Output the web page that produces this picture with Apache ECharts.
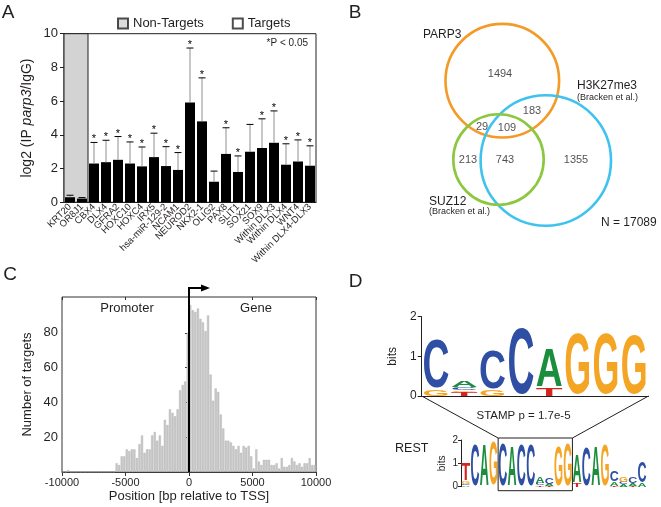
<!DOCTYPE html>
<html><head><meta charset="utf-8">
<script src="https://cdn.jsdelivr.net/npm/echarts@6/dist/echarts.min.js"></script>
<style>html,body{margin:0;padding:0;background:#fff}#c{width:661px;height:507px}</style>
</head><body><div id="c"></div>
<script>
const FONT = '"Liberation Sans", Arial, Helvetica, sans-serif';
const INK = '#231f20';

// ---------- Panel A data ----------
const genes = ['KRT20','OR8J1','CBX4','DLX4','GFRA2','HOXC10','HOXC4','IRX5','hsa-miR-129-2','NCAM1','NEUROD2','NKX2-1','OLIG2','PAX8','SLIT1','SOX21','SOX9','Within DLX3','Within DLX4','WNT4','Within DLX4-DLX3'];
const enrichment = [0.3,0.22,2.3,2.38,2.52,2.3,2.13,2.68,2.15,1.92,5.92,4.8,1.22,2.87,1.8,3.0,3.22,3.53,2.23,2.42,2.17];
const errorTop   = [0.42,0.28,3.55,3.68,3.9,3.58,3.28,4.1,3.3,2.95,9.15,7.38,1.85,4.42,2.75,4.62,4.95,5.42,3.47,3.7,3.35];
const significant = [0,0,1,1,1,1,1,1,1,1,1,1,0,1,1,0,1,1,1,1,1];
const nonTargets = ['KRT20','OR8J1'];
const legendNames = ['Non-Targets','Targets'];

// ---------- Panel B data ----------
const vennSets = ['PARP3','H3K27me3','SUZ12'];
const vennCounts = [1494,183,29,109,213,743,1355];
const totalGenes = 17089;

// ---------- Panel C data ----------
const binStart = -10000, binWidth = 200;
const targetCounts = [
 0,0,1,0,0,0,0,0,0,0, 0,0,0,0,0,0,0,0,0,0,
 0,5,4,9,9,13,12,13,13,8, 16,21,11,13,13,21,23,18,21,15,
 30,27,36,34,32,36,47,50,52,80,
 96,93,92,94,88,86,81,90,56,41, 48,46,33,25,18,18,17,15,13,15,
 11,15,14,15,9,2,13,6,4,7, 7,7,4,4,5,2,8,3,3,4,
 8,6,4,5,3,5,5,8,4,4
];

// ---------- Panel D data ----------
const motifLetters = ['A','C','G','T'];
const parp3Motif = [
 [['G',0.16],['C',1.24]],
 [['T',0.11],['G',0.04],['C',0.08],['A',0.16]],
 [['G',0.16],['C',0.97]],
 [['C',1.68]],
 [['T',0.2],['A',0.98]],
 [['G',1.55]],
 [['G',1.55]],
 [['G',1.5]]
];
const restMotif = [
 [['A',0.06],['C',0.07],['G',0.1],['T',0.72]],
 [['C',1.78]],
 [['A',1.78]],
 [['G',1.9]],
 [['C',1.8]],
 [['A',1.72]],
 [['C',1.78]],
 [['C',1.75]],
 [['T',0.05],['C',0.1],['A',0.3]],
 [['T',0.04],['A',0.08],['C',0.3]],
 [['G',1.72]],
 [['G',1.8]],
 [['T',0.14],['A',1.2]],
 [['C',1.62]],
 [['A',1.7]],
 [['G',1.78]],
 [['T',0.04],['A',0.18],['C',0.45]],
 [['A',0.1],['C',0.1],['G',0.22]],
 [['T',0.04],['A',0.1],['C',0.28]],
 [['A',0.15],['C',0.88]]
];

// ---------- layout (not data) ----------
const vennCircleLayout = [[172.3,80.7,56.8],[215.8,160.5,65.2],[168.5,159.5,45.2]];
const vennColors = ['#F39A27','#3FC3EE','#8DC63F'];
const vennCountLayout = [[170,74],[202,111],[152,127],[177,128],[138,160],[175,160],[246,160]];
const LETTER_W = {A:0.722, C:0.722, G:0.778, T:0.611};
const LETTER_COL = {A:'#1B8E3E', C:'#2E4FA3', G:'#F5A524', T:'#D2261E'};

function stackData(motif){
  const out = [];
  motif.forEach((col,i)=>{ let acc=0; col.forEach(([L,h])=>{ out.push([i, acc, acc+h, motifLetters.indexOf(L)]); acc+=h; }); });
  return out;
}
function logoRender(fill){
  return function(params, api){
    const idx = api.value(0), y0 = api.value(1), y1 = api.value(2), L = motifLetters[api.value(3)];
    const pb = api.coord([idx, y0]), pt = api.coord([idx, y1]);
    const h = pb[1]-pt[1];
    if (h < 0.3) return {type:'group', children:[]};
    const bw = api.size([1,0])[0]*fill;
    const F = 100;
    const sx = bw/(LETTER_W[L]*F), sy = h/(0.716*F);
    return {type:'text', x: pb[0], y: (pb[1]+pt[1])/2 + 0.045*F*sy, scaleX: sx, scaleY: sy,
      style:{text:L, fontSize:F, fontFamily:FONT, fontWeight:'bold', fill:LETTER_COL[L], align:'center', verticalAlign:'middle'}};
  };
}

const chart = echarts.init(document.getElementById('c'));
const txt = (s)=>({color:INK, fontFamily:FONT, fontSize:s});

chart.setOption({
  animation:false,
  backgroundColor:'#fff',
  legend:{data:legendNames, left:117, top:17, itemWidth:10, itemHeight:10, itemGap:28, icon:'rect', selectedMode:false, textStyle:txt(13), padding:0},
  grid:[
    {left:64, top:33.7, width:252, height:168.6, show:true, borderColor:INK, borderWidth:1, backgroundColor:'transparent'},
    {left:330, top:0, width:331, height:260},
    {left:62, top:297, width:254, height:175, show:true, borderColor:'#333', borderWidth:1, backgroundColor:'transparent'},
    {left:421.7, top:316.7, width:226.8, height:79.3},
    {left:461, top:440, width:185.7, height:46.7}
  ],
  xAxis:[
    {gridIndex:0, type:'category', data:genes, axisLine:{lineStyle:{color:INK}}, axisTick:{show:false},
     axisLabel:{...txt(9.5), rotate:45, interval:0, margin:3}},
    {gridIndex:1, type:'value', min:0, max:331, show:false},
    {gridIndex:2, type:'value', min:-10000, max:10000, interval:5000, axisLine:{lineStyle:{color:'#333'}},
     axisTick:{length:4, lineStyle:{color:'#333'}}, axisLabel:{...txt(11), margin:5, formatter:v=>String(v)}, splitLine:{show:false},
     name:'Position [bp relative to TSS]', nameLocation:'middle', nameGap:18, nameTextStyle:txt(13)},
    {gridIndex:2, type:'value', position:'top', min:-10000, max:10000, interval:5000, axisLine:{show:false},
     axisTick:{inside:true, length:3, lineStyle:{color:'#333'}}, axisLabel:{show:false}, splitLine:{show:false}},
    {gridIndex:3, type:'category', data:parp3Motif.map((_,i)=>'t'+(i+1)), axisLine:{lineStyle:{color:INK}},
     axisTick:{alignWithLabel:true, length:4, lineStyle:{color:INK}}, axisLabel:{show:false}},
    {gridIndex:4, type:'category', data:restMotif.map((_,i)=>'r'+(i+1)), show:false}
  ],
  yAxis:[
    {gridIndex:0, type:'value', min:0, max:10, interval:2, axisLine:{show:true, lineStyle:{color:INK}},
     axisTick:{show:true, length:4, lineStyle:{color:INK}}, axisLabel:{...txt(13), margin:6}, splitLine:{show:false},
     name:'{n|log2 (IP }{i|parp3}{n|/IgG)}', nameLocation:'middle', nameGap:30,
     nameTextStyle:{...txt(14), rich:{n:txt(14), i:{...txt(14), fontStyle:'italic'}}}},
    {gridIndex:1, type:'value', min:0, max:260, inverse:true, show:false},
    {gridIndex:2, type:'value', min:0, max:100.6, axisLine:{show:true, lineStyle:{color:'#333'}},
     axisTick:{show:true, length:4, customValues:[20,40,60,80], lineStyle:{color:'#333'}},
     axisLabel:{...txt(13), margin:4, customValues:[20,40,60,80]}, splitLine:{show:false},
     name:'Number of targets', nameLocation:'middle', nameGap:28, nameTextStyle:txt(13)},
    {gridIndex:3, type:'value', min:0, max:2, interval:1, axisLine:{show:true, lineStyle:{color:INK}},
     axisTick:{show:true, length:4, lineStyle:{color:INK}}, axisLabel:{...txt(12), margin:5}, splitLine:{show:false},
     name:'bits', nameLocation:'middle', nameGap:23, nameTextStyle:txt(12)},
    {gridIndex:4, type:'value', min:0, max:2, interval:1, axisLine:{show:true, lineStyle:{color:INK}},
     axisTick:{show:true, length:3, lineStyle:{color:INK}}, axisLabel:{...txt(10), margin:3}, splitLine:{show:false},
     name:'bits', nameLocation:'middle', nameGap:14, nameTextStyle:txt(10)}
  ],
  series:[
    {type:'bar', name:'log2 enrichment', xAxisIndex:0, yAxisIndex:0, data:enrichment, barWidth:10, z:3,
     itemStyle:{color:'#000'},
     markArea:{silent:true, itemStyle:{color:'#d3d3d3', borderColor:INK, borderWidth:1},
       data:[[{xAxis:nonTargets[0]},{xAxis:nonTargets[nonTargets.length-1]}]]}},
    {type:'custom', xAxisIndex:0, yAxisIndex:0, z:4,
     data: enrichment.map((v,i)=>[i, v, errorTop[i], significant[i]]),
     encode:{x:0, y:[1,2]},
     renderItem(params, api){
       const i = api.value(0);
       const b = api.coord([i, api.value(1)]), t = api.coord([i, api.value(2)]);
       const ch = [
         {type:'line', shape:{x1:b[0], y1:b[1], x2:t[0], y2:t[1]}, style:{stroke:'#8f8f8f', lineWidth:1}},
         {type:'line', shape:{x1:t[0]-3.5, y1:t[1], x2:t[0]+3.5, y2:t[1]}, style:{stroke:'#000', lineWidth:1}}
       ];
       if (api.value(3)) ch.push({type:'text', x:t[0], y:t[1]-3, style:{text:'*', fontSize:11, fontFamily:FONT, fill:'#000', align:'center', verticalAlign:'middle'}});
       return {type:'group', children:ch};
     }},
    {type:'scatter', name:legendNames[0], xAxisIndex:0, yAxisIndex:0, data:[], itemStyle:{color:'#d3d3d3', borderColor:INK, borderWidth:1}},
    {type:'scatter', name:legendNames[1], xAxisIndex:0, yAxisIndex:0, data:[], itemStyle:{color:'#fff', borderColor:INK, borderWidth:1}},
    {type:'custom', xAxisIndex:1, yAxisIndex:1, z:2,
     data: vennCircleLayout.map((c,i)=>[c[0], c[1], c[2], i]),
     encode:{x:0, y:1},
     renderItem(params, api){
       const c = api.coord([api.value(0), api.value(1)]);
       const r = api.size([api.value(2), 0])[0];
       return {type:'circle', shape:{cx:c[0], cy:c[1], r:r}, style:{fill:'none', stroke:vennColors[api.value(3)], lineWidth:2.6}};
     }},
    {type:'scatter', xAxisIndex:1, yAxisIndex:1, symbolSize:1, z:3, itemStyle:{color:'transparent'},
     data: vennCounts.map((n,i)=>[vennCountLayout[i][0], vennCountLayout[i][1], n]),
     label:{show:true, position:'inside', formatter:p=>String(p.value[2]), ...txt(11)}},
    {type:'bar', xAxisIndex:2, yAxisIndex:2, barWidth:2.1, z:2,
     itemStyle:{color:'#c9c9c9', borderColor:'#a9a9a9', borderWidth:0.4},
     data: targetCounts.map((v,i)=>[binStart + binWidth*i + binWidth/2, v])},
    {type:'custom', xAxisIndex:4, yAxisIndex:3, data:stackData(parp3Motif), encode:{x:0, y:[1,2]}, renderItem:logoRender(0.95)},
    {type:'custom', xAxisIndex:5, yAxisIndex:4, data:stackData(restMotif), encode:{x:0, y:[1,2]}, renderItem:logoRender(0.97)}
  ]
});

// ---------- annotations ----------
function T(x, y, text, size, align, extra){
  return {type:'text', x:x, y:y + 0.045*size, z:10, style:Object.assign({text:text, fontSize:size, fontFamily:FONT, fill:INK, align:align||'center', verticalAlign:'middle'}, extra||{})};
}
const g = [];
g.push(T(8,11.5,'A',19), T(355,11.5,'B',19), T(10,273.5,'C',19), T(355.5,280.5,'D',19));
g.push(T(308,43,'*P < 0.05',10,'right'));
g.push(T(423,34,vennSets[0],12,'left'), T(577,85,vennSets[1],12,'left'), T(577,97,'(Bracken et al.)',9,'left'),
       T(429,201,vennSets[2],12,'left'), T(429,211,'(Bracken et al.)',9,'left'), T(601,222,'N = '+totalGenes,12,'left'));
g.push(T(127,308,'Promoter',13), T(256,308,'Gene',13));
g.push(T(523.5,415.7,'STAMP p = 1.7e-5',11.5), T(411.7,447.7,'REST',12.5));

// TSS arrow
const x0 = chart.convertToPixel({xAxisIndex:2}, 0);
const yb = chart.convertToPixel({yAxisIndex:2}, 0);
const yArrow = 288;
g.push({type:'polyline', z:10, shape:{points:[[x0,yb],[x0,yArrow],[x0+14,yArrow]]}, style:{stroke:'#000', lineWidth:2, fill:null}});
g.push({type:'polygon', z:10, shape:{points:[[x0+12,yArrow-3.5],[x0+21,yArrow],[x0+12,yArrow+3.5]]}, style:{fill:'#000'}});

// REST box + connectors
const bw2 = 185.7/restMotif.length;
const bl = chart.convertToPixel({xAxisIndex:5}, 'r5') - bw2/2;
const br = chart.convertToPixel({xAxisIndex:5}, 'r12') + bw2/2;
const bt = chart.convertToPixel({yAxisIndex:4}, 2) - 2;
const bbot = chart.convertToPixel({yAxisIndex:4}, 0) + 4;
g.push({type:'rect', z:10, shape:{x:bl, y:bt, width:br-bl, height:bbot-bt}, style:{fill:null, stroke:INK, lineWidth:1}});
const topY = chart.convertToPixel({yAxisIndex:3}, 0);
const tl = chart.convertToPixel({xAxisIndex:4}, 't1') - 226.8/16;
const tr = chart.convertToPixel({xAxisIndex:4}, 't8') + 226.8/16;
g.push({type:'line', z:10, shape:{x1:tl, y1:topY, x2:bl, y2:bt}, style:{stroke:INK, lineWidth:1}});
g.push({type:'line', z:10, shape:{x1:tr, y1:topY, x2:br, y2:bt}, style:{stroke:INK, lineWidth:1}});

chart.setOption({graphic:g});
</script></body></html>
